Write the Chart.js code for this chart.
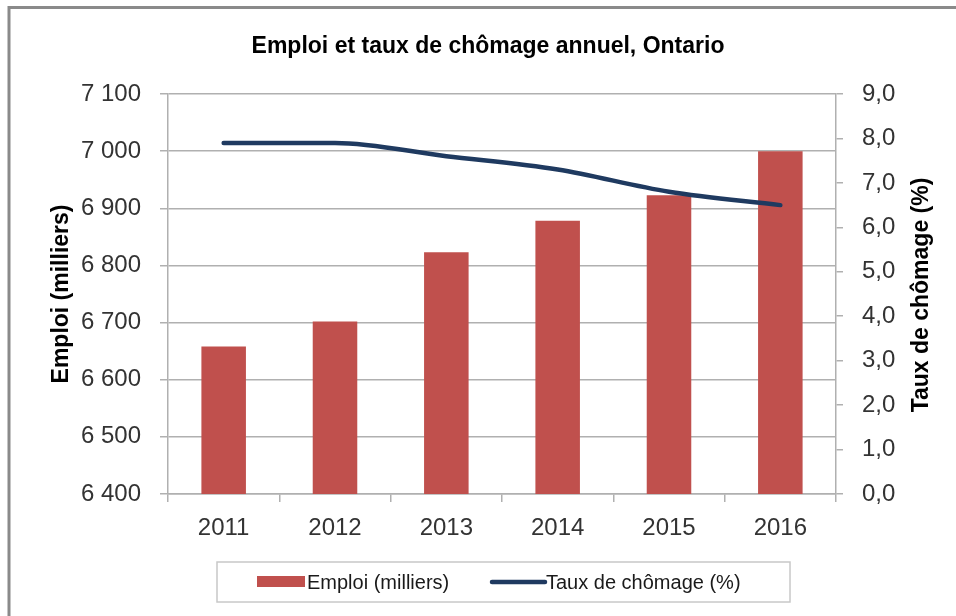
<!DOCTYPE html>
<html>
<head>
<meta charset="utf-8">
<script src="https://cdn.jsdelivr.net/npm/chart.js@4.4.1/dist/chart.umd.min.js"></script>
<style>
  html, body { margin: 0; padding: 0; background: #ffffff; }
  #wrap { width: 956px; height: 616px; position: relative; }
</style>
</head>
<body>
<div id="wrap"><canvas id="c" width="956" height="616"></canvas></div>
<script>
const categories = ["2011", "2012", "2013", "2014", "2015", "2016"];
const emploi = [6658, 6702, 6823, 6878, 6923, 7000];
const chomage = [7.9, 7.9, 7.6, 7.3, 6.8, 6.5];
const chartTitle = "Emploi et taux de chômage annuel, Ontario";
const leftTitle = "Emploi (milliers)";
const rightTitle = "Taux de chômage (%)";
const seriesNames = ["Emploi (milliers)", "Taux de chômage (%)"];

const BAR_COLOR = "#c0504d";
const LINE_COLOR = "#1f3a60";
const GRID = "#b0b0b0";
const TICK_COLOR = "#333333";
const FONT = "'Liberation Sans', Arial, sans-serif";

const framePlugin = {
  id: "frame",
  beforeDraw(chart) {
    const ctx = chart.ctx;
    ctx.save();
    ctx.fillStyle = "#ffffff";
    ctx.fillRect(0, 0, chart.width, chart.height);
    ctx.strokeStyle = "#8a8a8a";
    ctx.lineWidth = 3;
    ctx.strokeRect(9, 7.5, 1000, 700);
    ctx.restore();
  }
};

const extrasPlugin = {
  id: "extras",
  afterDraw(chart) {
    const ctx = chart.ctx;
    const area = chart.chartArea;
    ctx.save();
    // right axis title (reads bottom-to-top)
    ctx.translate(922, (area.top + area.bottom) / 2 + 1);
    ctx.rotate(-Math.PI / 2);
    ctx.font = "bold 23px " + FONT;
    ctx.fillStyle = "#000000";
    ctx.textAlign = "center";
    ctx.textBaseline = "middle";
    ctx.fillText(rightTitle, 0, 0);
    ctx.restore();

    // legend
    ctx.save();
    const bx = 217, by = 562, bw = 573, bh = 40;
    ctx.strokeStyle = "#c8c8c8";
    ctx.lineWidth = 1.5;
    ctx.strokeRect(bx, by, bw, bh);
    const cy = by + bh / 2;
    ctx.fillStyle = BAR_COLOR;
    ctx.fillRect(257, cy - 6, 48, 11);
    ctx.font = "20px " + FONT;
    ctx.fillStyle = "#1a1a1a";
    ctx.textAlign = "left";
    ctx.textBaseline = "middle";
    ctx.fillText(seriesNames[0], 307, cy + 1);
    ctx.strokeStyle = LINE_COLOR;
    ctx.lineWidth = 4.5;
    ctx.lineCap = "round";
    ctx.beginPath();
    ctx.moveTo(492, cy);
    ctx.lineTo(545, cy);
    ctx.stroke();
    ctx.fillText(seriesNames[1], 546, cy + 1);
    ctx.restore();
  }
};

new Chart(document.getElementById("c"), {
  data: {
    labels: categories,
    datasets: [
      {
        type: "line",
        label: seriesNames[1],
        data: chomage,
        yAxisID: "y1",
        borderColor: LINE_COLOR,
        backgroundColor: LINE_COLOR,
        borderWidth: 4.5,
        borderCapStyle: "round",
        cubicInterpolationMode: "monotone",
        pointRadius: 0,
        fill: false,
        order: 0
      },
      {
        type: "bar",
        label: seriesNames[0],
        data: emploi,
        yAxisID: "y",
        backgroundColor: BAR_COLOR,
        barPercentage: 0.4,
        categoryPercentage: 1.0,
        order: 1
      }
    ]
  },
  options: {
    responsive: false,
    animation: false,
    devicePixelRatio: 1,
    layout: { padding: { left: 20, right: 0, top: 0, bottom: 0 } },
    plugins: {
      legend: { display: false },
      tooltip: { enabled: false },
      title: {
        display: true,
        text: chartTitle,
        color: "#000000",
        font: { family: FONT, size: 23, weight: "bold", lineHeight: 1.2 },
        padding: { top: 33, bottom: 33.4 }
      }
    },
    scales: {
      x: {
        offset: true,
        grid: {
          display: true,
          offset: true,
          drawOnChartArea: false,
          drawTicks: true,
          tickLength: 8,
          color: GRID,
          lineWidth: 1.5
        },
        border: { display: true, color: GRID, width: 1.5 },
        ticks: {
          color: TICK_COLOR,
          font: { family: FONT, size: 24 },
          padding: 12,
          maxRotation: 0
        },
        afterFit(scale) { scale.height = 122; }
      },
      y: {
        position: "left",
        min: 6400,
        max: 7100,
        grid: {
          color: GRID,
          lineWidth: 1.5,
          drawTicks: true,
          tickLength: 8
        },
        border: { display: true, color: GRID, width: 1.5 },
        ticks: {
          stepSize: 100,
          color: TICK_COLOR,
          font: { family: FONT, size: 24 },
          padding: 19,
          callback: (v) => {
            const s = String(Math.round(v));
            return s.slice(0, s.length - 3) + " " + s.slice(-3);
          }
        },
        title: {
          display: true,
          text: leftTitle,
          color: "#000000",
          font: { family: FONT, size: 23, weight: "bold", lineHeight: 1.2 },
          padding: { top: 28, bottom: 0 }
        },
        afterFit(scale) { scale.width = 148; }
      },
      y1: {
        position: "right",
        min: 0,
        max: 9,
        grid: {
          drawOnChartArea: false,
          drawTicks: true,
          tickLength: 7,
          color: GRID,
          lineWidth: 1.5
        },
        border: { display: true, color: GRID, width: 1.5 },
        ticks: {
          stepSize: 1,
          color: TICK_COLOR,
          font: { family: FONT, size: 24 },
          padding: 19,
          callback: (v) => Number(v).toFixed(1).replace(".", ",")
        },
        afterFit(scale) { scale.width = 120; }
      }
    }
  },
  plugins: [framePlugin, extrasPlugin]
});
</script>
</body>
</html>
